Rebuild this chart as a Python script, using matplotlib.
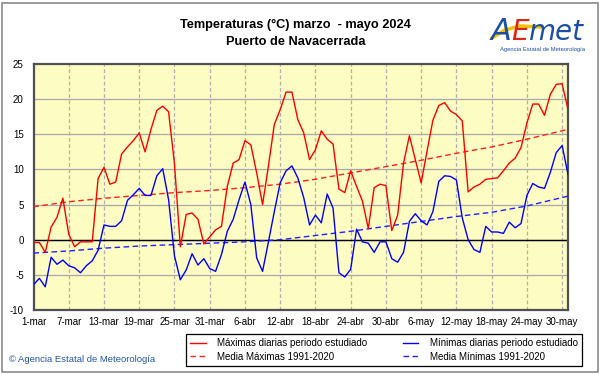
import matplotlib
matplotlib.use("Agg")
import matplotlib.pyplot as plt
from matplotlib.patches import Rectangle
from matplotlib.lines import Line2D

plt.rcParams["font.family"] = ["Liberation Sans", "DejaVu Sans"]
plt.rcParams["axes.unicode_minus"] = False

# daily values, 1-mar .. 31-may 2024 (92 days)
tmax = [-0.4, -0.4, -1.8, 1.8, 3.2, 5.9, 0.8, -1.0, -0.3, -0.3,
        -0.3, 8.7, 10.3, 7.9, 8.2, 12.2, 13.2, 14.1, 15.2, 12.5,
        15.7, 18.4, 19.0, 18.2, 10.8, -1.0, 3.6, 3.8, 2.9, -0.6,
        0.4, 1.4, 1.9, 7.6, 10.9, 11.4, 14.1, 13.5, 9.5, 5.0,
        10.5, 16.4, 18.5, 21.0, 21.0, 17.1, 15.2, 11.4, 12.8, 15.5,
        14.3, 13.6, 7.2, 6.7, 9.8, 7.6, 5.5, 1.6, 7.4, 7.9,
        7.7, 1.3, 3.5, 10.9, 14.8, 11.4, 8.1, 12.6, 17.0, 19.1,
        19.5, 18.3, 17.8, 16.9, 6.8, 7.5, 7.9, 8.6, 8.7, 8.8,
        9.8, 10.9, 11.6, 13.1, 16.6, 19.3, 19.3, 17.7, 20.7, 22.1,
        22.2, 18.5]
tmin = [-6.4, -5.5, -6.7, -2.5, -3.5, -2.9, -3.7, -4.0, -4.7, -3.7,
        -3.0, -1.5, 2.1, 1.9, 1.9, 2.7, 5.6, 6.4, 7.3, 6.3,
        6.3, 9.1, 10.1, 5.7, -2.3, -5.7, -4.3, -2.0, -3.6, -2.7,
        -4.1, -4.5, -2.1, 1.2, 2.9, 5.7, 8.2, 5.0, -2.6, -4.5,
        -0.3, 4.0, 8.1, 9.8, 10.5, 8.8, 6.0, 2.1, 3.5, 2.4,
        6.5, 4.5, -4.7, -5.3, -4.2, 1.5, -0.3, -0.5, -1.8, -0.3,
        -0.3, -2.7, -3.2, -1.8, 2.6, 3.7, 2.7, 2.1, 4.0, 8.3,
        9.1, 9.0, 8.5, 3.1, 0.0, -1.4, -1.8, 1.9, 1.1, 1.1,
        0.9, 2.5, 1.7, 2.3, 6.3, 8.0, 7.5, 7.3, 9.6, 12.4,
        13.4, 9.3]

# 1991-2020 means, read at each label day
clim_days = [0, 6, 12, 18, 24, 30, 36, 42, 48, 54, 60, 66, 72, 78, 84, 90, 91]
clim_max = [4.7, 5.4, 5.9, 6.3, 6.7, 7.0, 7.4, 7.9, 8.6, 9.5, 10.4, 11.3, 12.3, 13.2, 14.3, 15.5, 15.7]
clim_min = [-1.9, -1.6, -1.2, -0.9, -0.7, -0.5, -0.3, 0.0, 0.6, 1.2, 1.9, 2.6, 3.3, 3.9, 4.8, 6.0, 6.2]

tick_days = [0, 6, 12, 18, 24, 30, 36, 42, 48, 54, 60, 66, 72, 78, 84, 90]
tick_labels = ["1-mar", "7-mar", "13-mar", "19-mar", "25-mar", "31-mar", "6-abr", "12-abr",
               "18-abr", "24-abr", "30-abr", "6-may", "12-may", "18-may", "24-may", "30-may"]
y_ticks = [-10, -5, 0, 5, 10, 15, 20, 25]

W, H = 601, 374
fig = plt.figure(figsize=(W / 100, H / 100), dpi=100)
fig.patch.set_facecolor("white")

# outer frame
fig.add_artist(Rectangle((2 / W, 2 / H), (W - 5) / W, (H - 5) / H, transform=fig.transFigure,
                         fill=False, edgecolor="#8a8a8a", lw=1.2))

ax = fig.add_axes([33.5 / W, 1 - 310 / H, (568 - 33.5) / W, (310 - 64) / H])
ax.set_facecolor("#fdfcc2")
days = list(range(len(tmax)))

ax.set_xlim(0, 91)
ax.set_ylim(-10, 25)
ax.set_xticks(tick_days)
ax.set_xticklabels(tick_labels)
ax.set_yticks(y_ticks)
ax.tick_params(length=0, labelsize=7, pad=5)
ax.tick_params(axis="y", pad=7)

for y in y_ticks[1:-1]:
    ax.axhline(y, color="#a9a9a9", lw=0.9, zorder=1)
for d in tick_days[1:]:
    ax.axvline(d, color="#b0b0b0", lw=0.9, ls=(0, (3, 2)), zorder=1)
ax.axhline(0, color="black", lw=1.0, zorder=2)

l1, = ax.plot(days, tmax, color="#ff0000", lw=1.0, zorder=4)
l2, = ax.plot(clim_days, clim_max, color="#ff2020", lw=1.0, ls=(0, (4, 2.5)), zorder=3)
l3, = ax.plot(days, tmin, color="#0000ff", lw=1.0, zorder=4)
l4, = ax.plot(clim_days, clim_min, color="#2020ff", lw=1.0, ls=(0, (4, 2.5)), zorder=3)

for s in ax.spines.values():
    s.set_color("#505050")
    s.set_linewidth(1.6)

# titles
fig.text(295 / W, 1 - 25 / H, "Temperaturas (°C) marzo  - mayo 2024", ha="center", va="center",
         fontsize=9.2, fontweight="bold")
fig.text(296 / W, 1 - 42 / H, "Puerto de Navacerrada", ha="center", va="center",
         fontsize=9.2, fontweight="bold")

# logo
fig.text(491 / W, 1 - 40 / H, "A", color="#1d4fa3", fontsize=22, fontstyle="italic",
         ha="left", va="baseline", family="DejaVu Sans")
fig.text(511 / W, 1 - 40 / H, "E", color="#e0251b", fontsize=20, fontstyle="italic",
         ha="left", va="baseline", family="DejaVu Sans")
fig.text(528 / W, 1 - 40 / H, "met", color="#1d4fa3", fontsize=20, fontstyle="italic",
         ha="left", va="baseline", family="DejaVu Sans")
fig.add_artist(Line2D([492 / W, 505 / W, 520 / W, 540 / W], [1 - 38 / H, 1 - 30 / H, 1 - 26 / H, 1 - 27 / H],
                      transform=fig.transFigure, color="#f2c200", lw=2.5))
fig.text(543 / W, 1 - 50 / H, "Agencia Estatal de Meteorología", color="#1d4fa3", fontsize=4.2,
         ha="center", va="center")

# footer
fig.text(9 / W, 1 - 359 / H, "© Agencia Estatal de Meteorología", color="#2456a6", fontsize=6.8,
         ha="left", va="center")

leg = fig.legend([l1, l2, l3, l4],
                 ["Máximas diarias periodo estudiado", "Media Máximas 1991-2020",
                  "Mínimas diarias periodo estudiado", "Media Mínimas 1991-2020"],
                 ncol=2, loc="center", bbox_to_anchor=(384 / W, 1 - 350 / H),
                 fontsize=7, handlelength=1.6, handletextpad=1.2, columnspacing=3.6,
                 labelspacing=0.35, borderpad=0.4, fancybox=False, framealpha=1,
                 edgecolor="black")
leg.get_frame().set_linewidth(0.9)

fig.savefig("out.png", dpi=100)
